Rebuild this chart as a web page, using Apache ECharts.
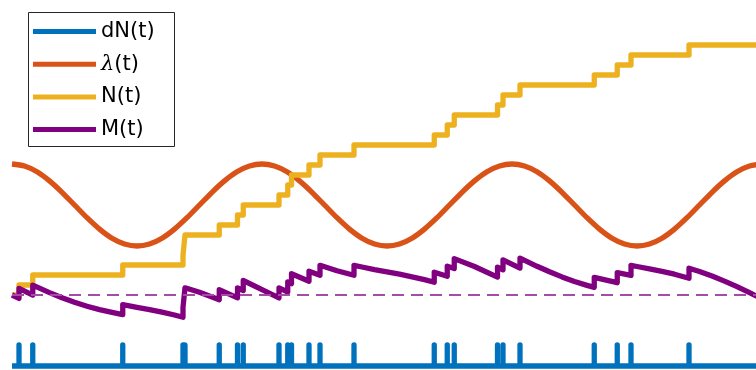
<!DOCTYPE html>
<html>
<head>
<meta charset="utf-8">
<script src="https://cdn.jsdelivr.net/npm/echarts@6/dist/echarts.min.js"></script>
<style>
  html, body { margin: 0; padding: 0; background: #ffffff; }
  #chart { width: 756px; height: 370px; }
</style>
</head>
<body>
<div id="chart"></div>
<script>
// Event times of the point process (arrivals)
const eventTimes = [0.28, 0.83, 4.43, 6.84, 6.88, 6.92, 8.29, 9.02, 9.25, 10.68,
  11.03, 11.18, 11.88, 12.32, 13.68, 16.89, 17.41, 17.69, 19.42, 19.64,
  20.32, 23.29, 24.21, 24.76, 27.08];

// Counting process N(t): value after each arrival
const countValues = [1, 2, 3, 4, 5, 6, 7, 8, 9, 10, 11, 12, 13, 14, 15,
  16, 17, 18, 19, 20, 21, 22, 23, 24, 25];

// Intensity lambda(t), sampled every 0.5 time units from t = 0 to 30
const lambdaStep = 0.5;
const lambdaValues = [
  13.10, 12.90, 12.32, 11.41, 10.27, 9.00, 7.73, 6.59, 5.68, 5.10,
  4.90, 5.10, 5.68, 6.59, 7.73, 9.00, 10.27, 11.41, 12.32, 12.90,
  13.10, 12.90, 12.32, 11.41, 10.27, 9.00, 7.73, 6.59, 5.68, 5.10,
  4.90, 5.10, 5.68, 6.59, 7.73, 9.00, 10.27, 11.41, 12.32, 12.90,
  13.10, 12.90, 12.32, 11.41, 10.27, 9.00, 7.73, 6.59, 5.68, 5.10,
  4.90, 5.10, 5.68, 6.59, 7.73, 9.00, 10.27, 11.41, 12.32, 12.90,
  13.10
];

// Compensated process M(t) = N(t) - Lambda(t): [t, value] vertices
const martingalePoints = [
  [0, 0],
  [0.28, -0.34], [0.28, 0.66],
  [0.83, -0.01], [0.83, 0.99],
  [1.5, 0.24], [2.0, -0.28], [2.5, -0.73], [3.0, -1.12], [3.5, -1.46], [4.0, -1.74],
  [4.43, -1.96], [4.43, -0.96],
  [5.0, -1.23], [5.5, -1.46], [6.0, -1.72], [6.5, -2.00],
  [6.84, -2.23], [6.84, -1.23],
  [6.88, -1.25], [6.88, -0.25],
  [6.92, -0.28], [6.92, 0.72],
  [7.5, 0.27],
  [8.29, -0.47], [8.29, 0.53],
  [9.02, -0.28], [9.02, 0.72],
  [9.25, 0.45], [9.25, 1.45],
  [10.0, 0.54],
  [10.68, -0.29], [10.68, 0.71],
  [11.03, 0.30], [11.03, 1.30],
  [11.18, 1.13], [11.18, 2.13],
  [11.88, 1.38], [11.88, 2.38],
  [12.32, 1.97], [12.32, 2.97],
  [13.0, 2.42],
  [13.68, 1.97], [13.68, 2.97],
  [14.0, 2.80], [14.5, 2.54], [15.0, 2.31], [15.5, 2.08], [16.0, 1.82], [16.5, 1.54],
  [16.89, 1.28], [16.89, 2.28],
  [17.41, 1.88], [17.41, 2.88],
  [17.69, 2.64], [17.69, 3.64],
  [18.5, 2.85],
  [19.42, 1.79], [19.42, 2.79],
  [19.64, 2.52], [19.64, 3.52],
  [20.32, 2.69], [20.32, 3.69],
  [21.0, 2.87], [21.5, 2.32], [22.0, 1.81], [22.5, 1.35], [23.0, 0.96],
  [23.29, 0.76], [23.29, 1.76],
  [24.21, 1.23], [24.21, 2.23],
  [24.76, 1.96], [24.76, 2.96],
  [25.0, 2.85], [25.5, 2.62], [26.0, 2.36], [26.5, 2.08],
  [27.08, 1.68], [27.08, 2.68],
  [27.5, 2.35], [28.0, 1.90], [28.5, 1.39], [29.0, 0.83], [29.5, 0.23], [30.0, -0.38]
];

// Spike train dN(t) is drawn below the other curves: baseline and spike tip levels
const dNBase = -7.1;
const dNTip = -5.0;
const tStart = 0;
const tEnd = 30;
// visible time window (the last bit of the run falls past the right edge)
const tViewEnd = 29.76;

// ---- build series data from the arrays above ----
const dNData = [[tStart, dNBase]];
eventTimes.forEach(t => {
  dNData.push([t, dNBase], [t, dNTip], [t, dNBase]);
});
dNData.push([tEnd, dNBase]);

const lambdaData = lambdaValues.map((v, i) => [tStart + i * lambdaStep, v]);

const countData = [[tStart, 0]];
eventTimes.forEach((t, i) => countData.push([t, countValues[i]]));
countData.push([tEnd, countValues[countValues.length - 1]]);

const zeroData = [[tStart, 0], [tEnd, 0]];

const LW = 5.3;
const chart = echarts.init(document.getElementById('chart'), null, { renderer: 'canvas' });

function lineSeries(name, color, data, extra) {
  return Object.assign({
    name: name,
    type: 'line',
    data: data,
    color: color,
    symbol: 'none',
    showSymbol: false,
    silent: true,
    animation: false,
    clip: true,
    lineStyle: { color: color, width: LW, cap: 'butt', join: 'round' }
  }, extra || {});
}

chart.setOption({
  animation: false,
  backgroundColor: '#ffffff',
  grid: { left: 12, right: 0, top: 0, bottom: 0, containLabel: false },
  xAxis: {
    type: 'value', min: tStart, max: tViewEnd, show: false,
    splitLine: { show: false }
  },
  yAxis: {
    type: 'value', min: -7.5, max: 29.5, show: false,
    splitLine: { show: false }
  },
  legend: {
    data: ['dN(t)', 'λ(t)', 'N(t)', 'M(t)'],
    orient: 'vertical',
    left: 33,
    top: 21,
    padding: 0,
    icon: 'rect',
    itemWidth: 63,
    itemHeight: 5,
    itemGap: 11.7,
    selectedMode: false,
    formatter: function (name) {
      return name === 'λ(t)' ? '{i|λ}(t)' : name;
    },
    textStyle: {
      fontFamily: 'DejaVu Sans',
      fontSize: 21,
      lineHeight: 21,
      color: '#000000',
      rich: {
        i: { fontFamily: 'DejaVu Serif', fontStyle: 'italic', fontSize: 21, lineHeight: 21, color: '#000000' }
      }
    }
  },
  graphic: [{
    type: 'rect',
    z: 0,
    silent: true,
    shape: { x: 28.5, y: 12.5, width: 146, height: 134 },
    style: { fill: '#ffffff', stroke: '#262626', lineWidth: 1 }
  }],
  series: [
    lineSeries('dN(t)', '#0072BD', dNData),
    lineSeries('λ(t)', '#D95319', lambdaData, { smooth: 0.3 }),
    lineSeries('N(t)', '#EDB120', countData, { step: 'end' }),
    lineSeries('M(t)', '#800080', martingalePoints),
    {
      name: 'zero',
      type: 'line',
      data: zeroData,
      symbol: 'none',
      silent: true,
      animation: false,
      clip: true,
      lineStyle: { color: '#A64CA6', width: 2, type: [12, 7] }
    }
  ]
});
</script>
</body>
</html>
